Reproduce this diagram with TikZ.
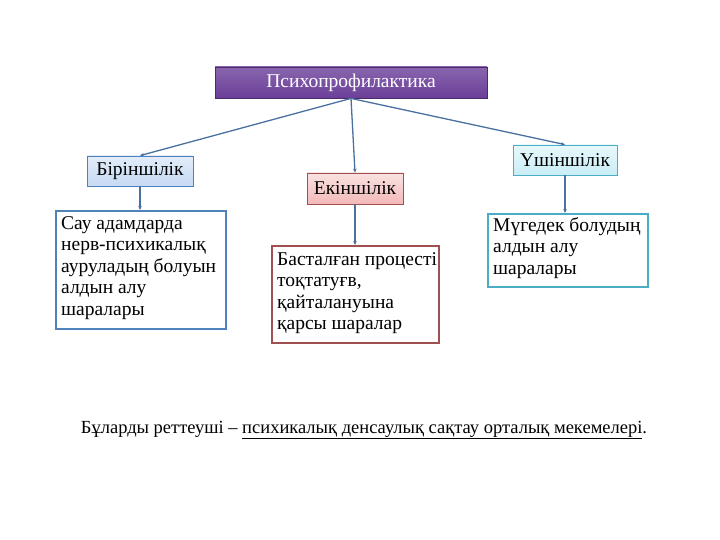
\documentclass[tikz,border=0pt]{standalone}
\usepackage{fontspec}
\setmainfont{Liberation Serif}
\usetikzlibrary{arrows.meta}
\begin{document}
\begin{tikzpicture}[x=1pt,y=-1pt,
  con/.style={draw=ln, line width=1.3pt, -{Stealth[length=4pt,width=3.5pt]}},
  hbox/.style={font=\fontsize{19.5}{21}\selectfont, line width=0.8pt},
  body/.style={anchor=north west, align=left, font=\fontsize{19.5}{21.5}\selectfont, inner sep=0pt},
  frame/.style={line width=2pt, anchor=north west}]
\useasboundingbox (0,0) rectangle (720,540);
\definecolor{purp}{HTML}{6B3F99}
\definecolor{lb}{HTML}{C6DAF3}
\definecolor{pk}{HTML}{F3B8B8}
\definecolor{cy}{HTML}{C8EEF6}
\definecolor{bl}{HTML}{4F81BD}
\definecolor{rd}{HTML}{A05050}
\definecolor{tl}{HTML}{4BACC6}
\definecolor{ln}{HTML}{4A70A0}
\node[hbox, draw=purp!70!black, top color=purp!80, bottom color=purp, minimum width=272, minimum height=31, text=white] (top) at (351,82.5) {Психопрофилактика};
\node[hbox, draw=bl, top color=lb!50, bottom color=lb, minimum width=106, minimum height=30] (b1) at (140,171) {Біріншілік};
\node[hbox, draw=rd, top color=pk!40, bottom color=pk, minimum width=96, minimum height=31] (b2) at (355,188.5) {Екіншілік};
\node[hbox, draw=tl, top color=cy!40, bottom color=cy, minimum width=104, minimum height=30] (b3) at (565,160) {Үшіншілік};
\node[frame, draw=bl, minimum width=170, minimum height=118] (t1) at (55,210) {};
\node[body] (x1) at (61,216) {Сау адамдарда\\нерв-психикалық\\ауруладың болуын\\алдын алу\\шаралары};
\node[frame, draw=rd, minimum width=167, minimum height=97] (t2) at (271,245) {};
\node[body] (x2) at (277,252) {Басталған процесті\\тоқтатуғв,\\қайталануына\\қарсы шаралар};
\node[frame, draw=tl, minimum width=160, minimum height=73] (t3) at (487,213) {};
\node[body] (x3) at (493,217) {Мүгедек болудың\\алдын алу\\шаралары};
\draw[con] (top.south) -- (b1.north);
\draw[con] (top.south) -- (b2.north);
\draw[con] (top.south) -- (b3.north);
\draw[con] (b1.south) -- (t1.north -| b1.south);
\draw[con] (b2.south) -- (t2.north -| b2.south);
\draw[con] (b3.south) -- (t3.north -| b3.south);
\node[font=\fontsize{18.5}{20}\selectfont, inner sep=0pt] (foot) at (364,430) {Бұларды реттеуші -- \underline{психикалық денсаулық сақтау орталық мекемелері}.};
\end{tikzpicture}
\end{document}
